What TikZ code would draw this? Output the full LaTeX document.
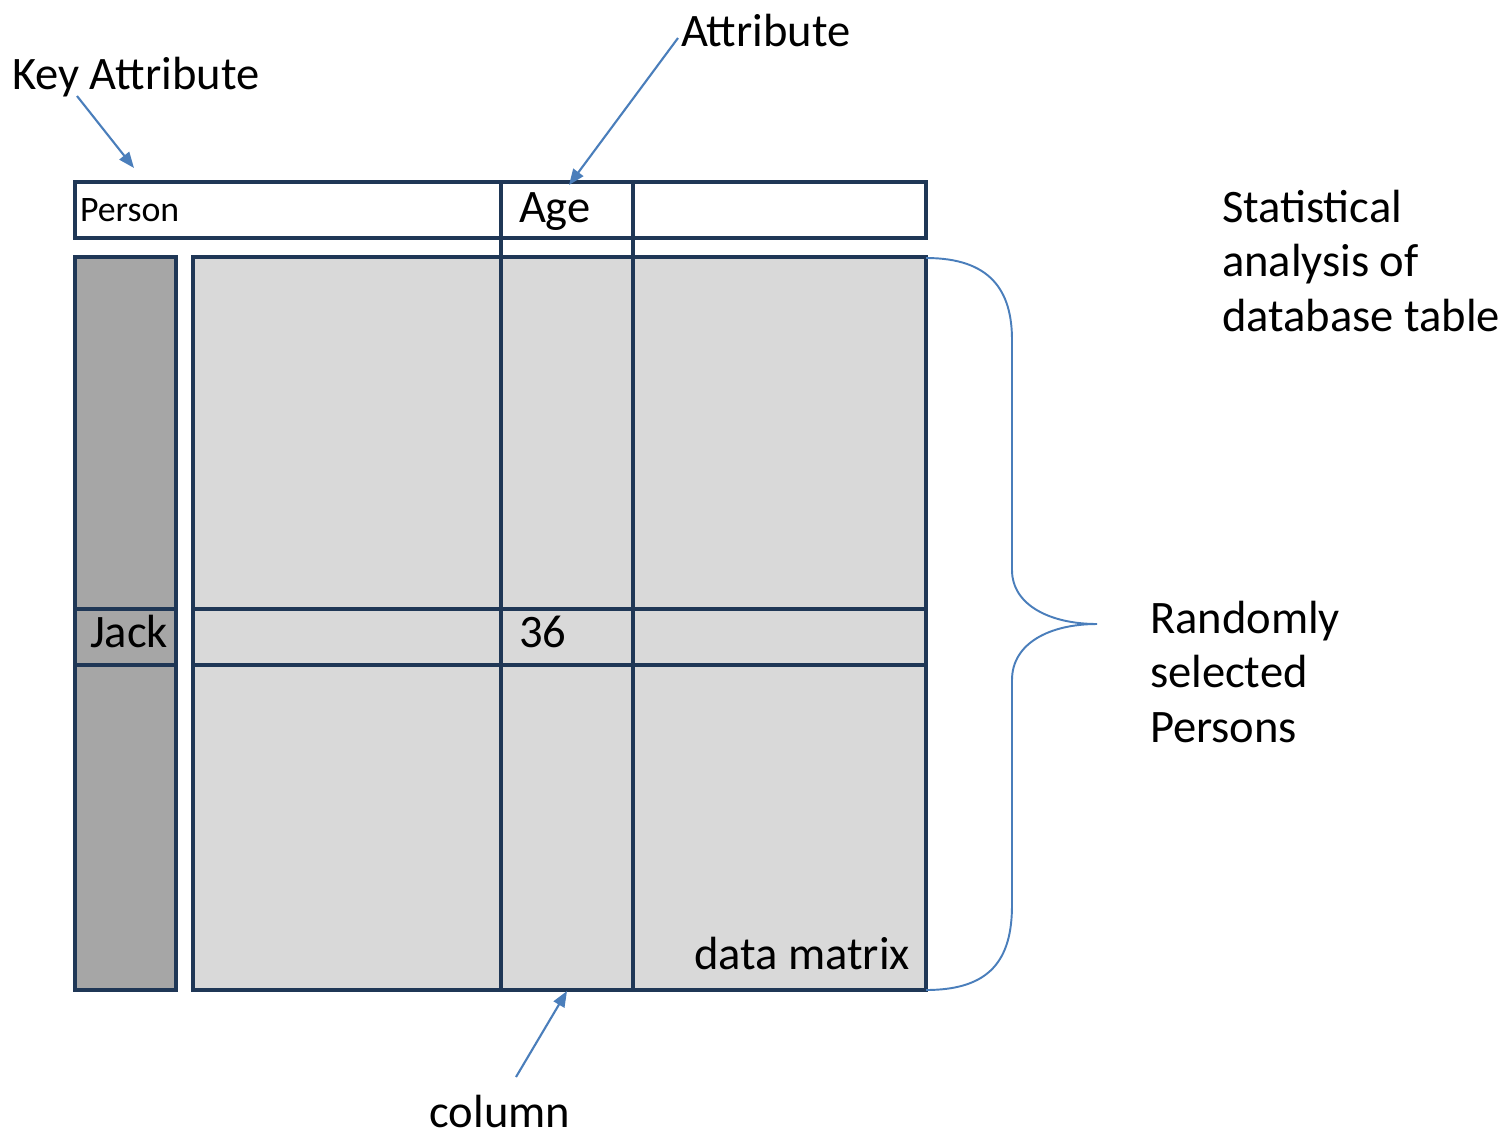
\documentclass[tikz,border=0pt]{standalone}
\usepackage{fontspec}
\setmainfont{Carlito}
\usetikzlibrary{arrows.meta}
\definecolor{navy}{HTML}{1F3756}
\definecolor{bluearr}{HTML}{4A7EBB}
\definecolor{keygray}{HTML}{A6A6A6}
\definecolor{datagray}{HTML}{D9D9D9}
\tikzset{
  grid/.style={draw=navy, line width=2.3pt, line cap=rect},
  lbl/.style={font=\fontsize{26.5pt}{31pt}\selectfont, inner sep=0pt, outer sep=0pt, text=black},
  small/.style={font=\fontsize{20.4pt}{24pt}\selectfont, inner sep=0pt, outer sep=0pt},
  pointer/.style={draw=bluearr, line width=1.2pt, -{Triangle[length=9pt,width=7pt]}},
  bracestyle/.style={draw=bluearr, line width=1.1pt}
}
\begin{document}
\begin{tikzpicture}[x=0.02cm, y=-0.02cm]
\useasboundingbox (0,0) rectangle (1505,1137);
% fills
\fill[keygray] (75,257) rectangle (176,990);
\fill[datagray] (193,257) rectangle (926,990);
% header
\draw[grid] (75,182) rectangle (926,238);
% key column
\draw[grid] (75,257) rectangle (176,990);
\draw[grid] (75,609) -- (176,609);
\draw[grid] (75,665) -- (176,665);
% data matrix
\draw[grid] (193,257) rectangle (926,990);
\draw[grid] (193,609) -- (926,609);
\draw[grid] (193,665) -- (926,665);
\draw[grid] (501,182) -- (501,990);
\draw[grid] (633,182) -- (633,990);
% cell texts
\node[small, anchor=base west] (person) at (80,221) {Person};
\node[lbl, anchor=base west] (age) at (519,222) {Age};
\node[lbl, anchor=base west] (jack) at (90,647) {Jack};
\node[lbl, anchor=base west] (v36) at (519,647) {36};
\node[lbl, anchor=base east] (dm) at (910,969) {data matrix};
% labels
\node[lbl, anchor=base west] (keyattr) at (12,89) {Key Attribute};
\node[lbl, anchor=base west] (attr) at (681,46) {Attribute};
\node[lbl, anchor=base west, align=left] (stat) at (1222,331) {Statistical\\analysis of\\database table};
\node[lbl, anchor=base west, align=left] (rand) at (1150,742) {Randomly\\selected\\Persons};
\node[lbl, anchor=base] (col) at (500,1127) {column};
% arrow endpoints
\coordinate (ka0) at (77,96);
\coordinate (ka1) at (134,168);
\coordinate (at0) at (678,38);
\coordinate (at1) at (569,185);
\coordinate (co0) at (516,1077);
\coordinate (co1) at (567,991);
\draw[pointer] (ka0) -- (ka1);
\draw[pointer] (at0) -- (at1);
\draw[pointer] (co0) -- (co1);
% brace
\coordinate (bt) at (926,258);
\coordinate (bb) at (926,990);
\coordinate (tip) at (1097,624);
\draw[bracestyle] (bt) .. controls (990,258) and (1012,290) .. (1012,340)
  -- (1012,570) .. controls (1012,605) and (1050,624) .. (tip)
  .. controls (1050,624) and (1012,643) .. (1012,680)
  -- (1012,905) .. controls (1012,960) and (990,990) .. (bb);
\end{tikzpicture}
\end{document}
